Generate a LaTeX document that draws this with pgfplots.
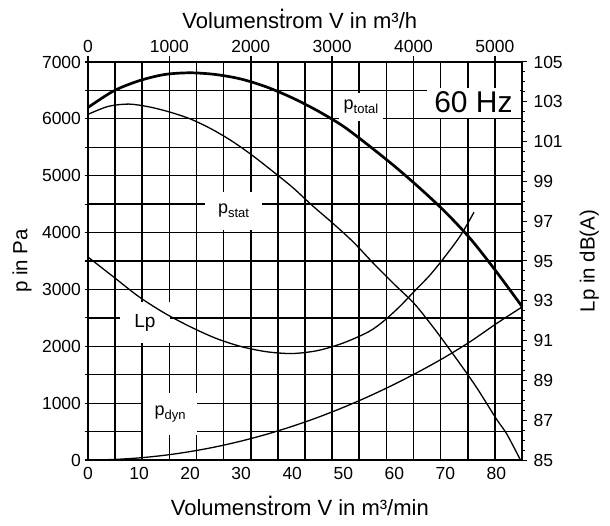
\documentclass[border=0pt]{standalone}
\usepackage{fontspec}
\setmainfont{Liberation Sans}
\usepackage{pgfplots}
\pgfplotsset{compat=1.18}
\newcommand{\tickfont}{\fontsize{17.5}{20}\selectfont}
\newcommand{\xlabfont}{\fontsize{22}{26}\selectfont}
\newcommand{\ylabfont}{\fontsize{20.5}{24}\selectfont}
\newcommand{\tdot}{\makebox[0pt][l]{\smash{\raisebox{0.78em}{.}}}t}
\newcommand{\sub}[1]{\raisebox{-0.22em}{\fontsize{13}{15}\selectfont #1}}

\pgfplotstableread{
x y
0 6200
5 6490
10 6670
15 6780
20 6810
25 6780
30 6700
35 6560
40 6370
45 6140
50 5870
55 5530
60 5170
65 4780
70 4360
75 3880
80 3310
85 2700
}\ptotal

\pgfplotstableread{
x y
0 6080
4 6220
8 6260
12 6210
16 6120
20 6000
24 5830
28 5620
32 5370
36 5090
40 4800
44 4470
48 4160
52 3830
56 3450
60 3090
64 2740
68 2290
72 1800
76 1290
80 720
82 460
84.7 0
}\pstat

\pgfplotstableread{
x y
0 0
5 9
10 37
15 83
20 148
25 231
30 333
35 453
40 592
45 749
50 925
55 1119
60 1332
65 1563
70 1813
75 2090
80 2400
85 2690
}\pdyn

\pgfplotstableread{
x y
0 95.2
5 94.2
10 93.2
15 92.38
20 91.7
25 91.12
30 90.7
35 90.44
40 90.35
45 90.5
50 90.88
55 91.45
58 92.0
61 92.7
64 93.5
67 94.3
70 95.25
73 96.3
75.6 97.45
}\lp

\begin{document}
\begin{tikzpicture}
\useasboundingbox (0,0) rectangle (610pt,525pt);
% top axis: m3/h
\begin{axis}[
  at={(88pt,65pt)}, anchor=south west,
  width=434pt, height=398pt, scale only axis,
  xmin=0, xmax=5333.333, ymin=0, ymax=1,
  axis x line*=top, hide y axis,
  xtick={0,1000,...,5000},
  tick align=outside,
  major tick length=6pt,
  tick style={line width=1.7pt, black},
  xticklabel style={font=\tickfont},
  /pgf/number format/assume math mode=true,
  /pgf/number format/1000 sep={},
  scaled ticks=false,
  axis line style={line width=1.1pt},
  xlabel={Volumens\tdot rom V in m³/h},
  xlabel style={font=\xlabfont, inner sep=0pt, at={(rel axis cs:0.488,1.103)}, anchor=center},
]
\end{axis}
% main axis: m3/min vs Pa
\begin{axis}[
  at={(88pt,65pt)}, anchor=south west,
  width=434pt, height=398pt, scale only axis,
  xmin=0, xmax=85, ymin=0, ymax=7000,
  xtick={0,10,...,80}, xtick pos=bottom,
  major x tick style={draw=none},
  ytick={0,1000,...,7000}, minor ytick={500,1500,...,6500}, ytick pos=left,
  ymajorgrids, yminorgrids,
  major grid style={draw=black, line width=1.1pt},
  minor grid style={draw=black, line width=1.1pt},
  extra y ticks={2500,3500,4500}, extra y tick labels={},
  extra y tick style={ymajorgrids=true, major grid style={draw=black, line width=2.1pt}},
  tick align=center,
  major tick length=7pt, minor tick length=7pt,
  tick style={line width=1.1pt, black},
  ticklabel style={font=\tickfont},
  /pgf/number format/assume math mode=true,
  /pgf/number format/1000 sep={},
  scaled ticks=false,
  axis line style={line width=1.1pt},
  xlabel={Volumens\tdot rom V in m³/min},
  xlabel style={font=\xlabfont, inner sep=0pt, at={(rel axis cs:0.488,-0.12)}, anchor=center},
  ylabel={p in Pa},
  ylabel style={font=\ylabfont, at={(rel axis cs:-0.152,0.5)}, anchor=center},
  clip=false,
]
% vertical grid: 16 equal divisions (every 1000/3 m3/h)
\pgfplotsinvokeforeach{5.3125,10.625,15.9375,21.25,26.5625,31.875,37.1875,42.5,47.8125,53.125,58.4375,63.75,69.0625,74.375,79.6875}{
  \draw[draw=black, line width=1.7pt] (axis cs:#1,0) -- (axis cs:#1,7000);
}
\addplot[smooth, line width=2.7pt, black] table {\ptotal};
\addplot[smooth, line width=1.3pt, black] table {\pstat};
\addplot[smooth, line width=1.3pt, black] table {\pdyn};
\node[fill=white, inner sep=0pt, minimum width=44pt, minimum height=28pt, font=\fontsize{18}{20}\selectfont] at (axis cs:53.47,6217) {p\sub{total}};
\node[fill=white, inner sep=0pt, minimum width=93pt, minimum height=30pt, font=\fontsize{30}{34}\selectfont] at (axis cs:75.5,6287) {60 Hz};
\node[fill=white, inner sep=0pt, minimum width=57pt, minimum height=38pt, font=\fontsize{18}{20}\selectfont] at (axis cs:28.5,4379) {p\sub{stat}};
\node[fill=white, inner sep=0pt, minimum width=50pt, minimum height=41pt, font=\fontsize{19}{22}\selectfont] at (axis cs:11.16,2418) {Lp};
\node[fill=white, inner sep=0pt, minimum width=54pt, minimum height=42pt, font=\fontsize{18}{20}\selectfont] at (axis cs:16.06,809) {p\sub{dyn}};
\end{axis}
% right axis: Lp in dB(A)
\begin{axis}[
  at={(88pt,65pt)}, anchor=south west,
  width=434pt, height=398pt, scale only axis,
  xmin=0, xmax=85, ymin=85, ymax=105,
  axis y line*=right, hide x axis,
  ytick={85,87,...,105}, minor y tick num=3,
  tick align=outside,
  major tick length=5pt, minor tick length=3.5pt,
  tick style={line width=1pt, black},
  yticklabel style={font=\tickfont, xshift=3pt},
  /pgf/number format/assume math mode=true,
  axis line style={line width=1.1pt},
  ylabel={Lp in dB(A)},
  ylabel style={font=\ylabfont, at={(rel axis cs:1.155,0.5)}, anchor=center},
]
\addplot[smooth, line width=1.3pt, black] table {\lp};
\end{axis}
\end{tikzpicture}
\end{document}
